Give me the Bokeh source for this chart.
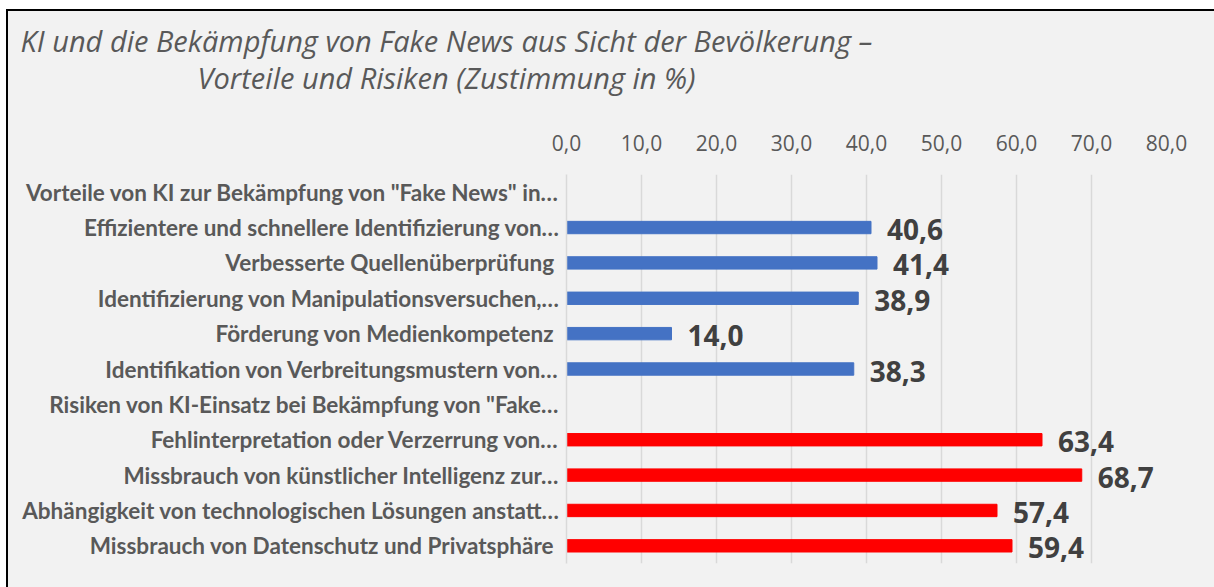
from bokeh.plotting import figure
from bokeh.layouts import column
from bokeh.models import FactorRange, FixedTicker, Label, ColumnDataSource, Range1d
from bokeh.core.properties import value
from bokeh.embed import file_html
from bokeh.resources import INLINE

title_line1 = "KI und die Bekämpfung von Fake News aus Sicht der Bevölkerung –"
title_line2 = "Vorteile und Risiken (Zustimmung in %)"

categories = [
    'Vorteile von KI zur Bekämpfung von "Fake News" in…',
    'Effizientere und schnellere Identifizierung von…',
    'Verbesserte Quellenüberprüfung ',
    'Identifizierung von Manipulationsversuchen,…',
    'Förderung von Medienkompetenz ',
    'Identifikation von Verbreitungsmustern von…',
    'Risiken von KI-Einsatz bei Bekämpfung von "Fake…',
    'Fehlinterpretation oder Verzerrung von…',
    'Missbrauch von künstlicher Intelligenz zur…',
    'Abhängigkeit von technologischen Lösungen anstatt…',
    'Missbrauch von Datenschutz und Privatsphäre ',
]
values = [None, 40.6, 41.4, 38.9, 14.0, 38.3, None, 63.4, 68.7, 57.4, 59.4]
groups = ["", "Vorteile", "Vorteile", "Vorteile", "Vorteile", "Vorteile",
          "", "Risiken", "Risiken", "Risiken", "Risiken"]
group_colors = {"Vorteile": "#4472c4", "Risiken": "#ff0000"}

tick_values = [0, 10, 20, 30, 40, 50, 60, 70, 80]
tick_labels = ["0,0", "10,0", "20,0", "30,0", "40,0", "50,0", "60,0", "70,0", "80,0"]

W = 1206
TH = 100          # title strip height
H = 576 - TH      # main chart height
BG = "#f2f2f2"

# ---------------- title strip ----------------
t = figure(width=W, height=TH, x_range=Range1d(0, W), y_range=Range1d(TH, 0),
           x_axis_location=None, y_axis_location=None,
           output_backend="svg", toolbar_location=None,
           min_border=0, min_border_left=0, min_border_right=0,
           min_border_top=0, min_border_bottom=0)
t.frame_align = False
t.background_fill_color = BG
t.border_fill_color = BG
t.outline_line_color = None
t.xgrid.visible = False
t.ygrid.visible = False
for txt, base in ((title_line1, 29), (title_line2, 66)):
    t.add_layout(Label(x=438, y=base, text=txt, text_align="center",
                       text_baseline="alphabetic",
                       text_font="Open Sans", text_font_style="italic",
                       text_font_size="29px", text_color="#595959"))

# ---------------- main chart ----------------
bar_cats, bar_vals, bar_cols, bar_lbls = [], [], [], []
for c, v, g in zip(categories, values, groups):
    if v is None:
        continue
    bar_cats.append(c)
    bar_vals.append(v)
    bar_cols.append(group_colors[g])
    bar_lbls.append(f"{v:.1f}".replace(".", ","))
src = ColumnDataSource(dict(cat=bar_cats, val=bar_vals, color=bar_cols, lbl=bar_lbls))

p = figure(width=W, height=H,
           y_range=FactorRange(*reversed(categories)),
           x_range=(0, 80),
           x_axis_location="above",
           output_backend="svg", toolbar_location=None,
           min_border_left=558, min_border_right=48,
           min_border_top=163 - TH, min_border_bottom=24)
p.frame_align = False
p.background_fill_color = BG
p.border_fill_color = BG
p.outline_line_color = None

p.hbar(y="cat", left=0, right="val", height=0.35, color="color", source=src)
p.text(x="val", y="cat", text="lbl", x_offset=16, y_offset=2,
       text_font=value("Open Sans"), text_font_style="bold",
       text_font_size="28px", text_color="#404040",
       text_baseline="middle", text_align="left", source=src)

xa = p.xaxis[0]
xa.ticker = FixedTicker(ticks=tick_values)
xa.major_label_overrides = {t_: l for t_, l in zip(tick_values, tick_labels)}
xa.axis_line_color = None
xa.major_tick_line_color = None
xa.minor_tick_line_color = None
xa.major_label_text_font = "Open Sans"
xa.major_label_text_font_size = "21px"
xa.major_label_text_color = "#595959"
xa.major_label_standoff = 18

ya = p.yaxis[0]
ya.axis_line_color = "#d9d9d9"
ya.axis_line_width = 1.5
ya.major_tick_line_color = None
ya.minor_tick_line_color = None
ya.major_label_text_font = "Lato"
ya.major_label_text_font_style = "bold"
ya.major_label_text_font_size = "22.5px"
ya.major_label_text_color = "#595959"
ya.major_label_standoff = 1

p.xgrid.grid_line_color = "#d9d9d9"
p.xgrid.grid_line_width = 1.5
p.xgrid.ticker = FixedTicker(ticks=tick_values)
p.ygrid.grid_line_color = None

layout = column(t, p, spacing=0)
layout.styles = {"margin-left": "6px", "margin-top": "9px",
                 "background-color": BG,
                 "border-top": "2px solid #000000", "border-left": "2px solid #000000"}

open("out.html", "w").write(file_html(layout, INLINE))
